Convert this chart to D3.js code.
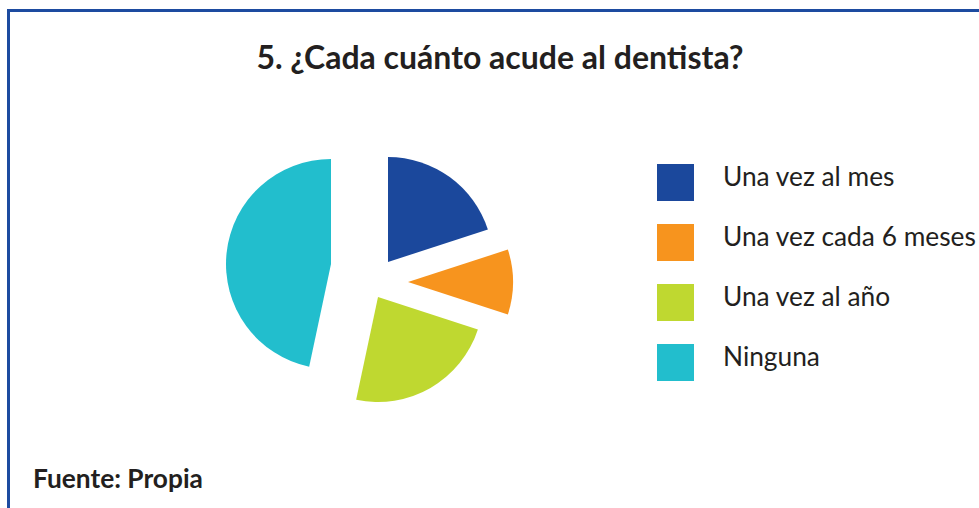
<!DOCTYPE html>
<html>
<head>
<meta charset="utf-8">
<script src="https://cdn.jsdelivr.net/npm/d3@7/dist/d3.min.js"></script>
<style>
  body { margin: 0; background: #fff; }
  svg text { font-family: Lato, "Open Sans", sans-serif; fill: #231f20; }
</style>
</head>
<body>
<div id="chart"></div>
<script>
// data (slice angles ~ 72/36/84/168 deg)
const categories = ['Una vez al mes', 'Una vez cada 6 meses', 'Una vez al año', 'Ninguna']
const values = [6, 3, 7, 14]
const colors = ['#1b489c', '#f7941e', '#bfd830', '#22becd']
const titleText = '5. ¿Cada cuánto acude al dentista?'
const sourceText = 'Fuente: Propia'

const W = 979, H = 508
const cx = 363, cy = 268, radius = 105
// how far each slice is pulled out of the pie (px, x/y)
const explode = [[25, -6], [45, 14], [15, 29], [-32, -4]]

var svg = d3.select('#chart').append('svg')
    .attr('width', W)
    .attr('height', H)

// frame lines (top + left)
svg.append('line').attr('x1', 8).attr('x2', W).attr('y1', 10.5).attr('y2', 10.5)
    .attr('stroke', '#1d4ba0').attr('stroke-width', 3)
svg.append('line').attr('x1', 8.5).attr('x2', 8.5).attr('y1', 9).attr('y2', H)
    .attr('stroke', '#1d4ba0').attr('stroke-width', 3)

svg.append('text')
    .attr('x', 500).attr('y', 69)
    .attr('text-anchor', 'middle')
    .style('font-size', '32px').style('font-weight', 700)
    .text(titleText)

var pie = d3.pie().sort(null).value(d => d)
var arc = d3.arc().innerRadius(0).outerRadius(radius)

var g = svg.append('g').attr('transform', 'translate(' + cx + ',' + cy + ')')

g.selectAll('path')
    .data(pie(values))
    .enter().append('path')
      .attr('transform', (d, i) => 'translate(' + explode[i][0] + ',' + explode[i][1] + ')')
      .attr('d', arc)
      .attr('fill', (d, i) => colors[i])

// legend
var legend = svg.append('g').attr('transform', 'translate(657,164)')
var item = legend.selectAll('g')
    .data(categories)
    .enter().append('g')
      .attr('transform', (d, i) => 'translate(0,' + i * 60 + ')')

item.append('rect')
    .attr('width', 37).attr('height', 37)
    .attr('fill', (d, i) => colors[i])

item.append('text')
    .attr('x', 66).attr('y', 22)
    .style('font-size', '26.3px')
    .text(d => d)

svg.append('text')
    .attr('x', 33).attr('y', 488)
    .style('font-size', '26.3px').style('font-weight', 700)
    .text(sourceText)
</script>
</body>
</html>
